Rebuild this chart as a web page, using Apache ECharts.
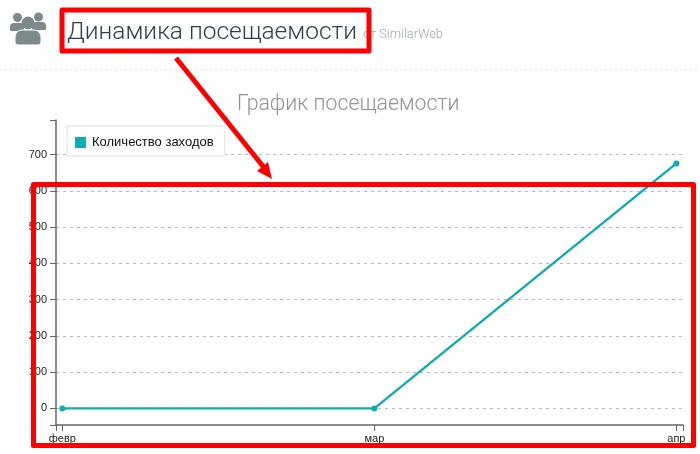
<!DOCTYPE html>
<html><head><meta charset="utf-8">
<style>html,body{margin:0;padding:0;background:#fff}#c{width:700px;height:454px}</style>
<script src="https://cdn.jsdelivr.net/npm/echarts@6/dist/echarts.min.js"></script>
</head><body><div id="c"></div>
<script>
const monthLabels = ['февр', 'мар', 'апр'];
const dayOffsets = [0, 31, 61];
const visits = [0, 0, 676];
const yTicks = [0, 100, 200, 300, 400, 500, 600, 700];
const seriesName = 'Количество заходов';
const pageTitle = 'Динамика посещаемости';
const pageSource = 'от SimilarWeb';
const chartTitle = 'График посещаемости';

const xMin = -0.63, xMax = 61.66, yMin = -45.8, yMax = 795.8;
const teal = '#0cadb3', axisCol = '#666', red = '#fe0000';
const sans = 'Liberation Sans, Arial, sans-serif';

const chart = echarts.init(document.getElementById('c'), null, {renderer: 'canvas'});
chart.setOption({
  animation: false,
  backgroundColor: '#fff',
  grid: {left: 56, right: 17, top: 120, bottom: 29, containLabel: false},
  legend: {
    left: 67, top: 126, orient: 'horizontal',
    data: [{name: seriesName, icon: 'rect'}],
    itemWidth: 11, itemHeight: 11, itemGap: 0,
    padding: [10, 11, 7, 8],
    backgroundColor: '#fff', borderColor: '#eaeaea', borderWidth: 1.5,
    textStyle: {color: '#111', fontSize: 13, fontFamily: sans, padding: [0, 0, 0, 1]}
  },
  xAxis: {
    type: 'value', min: xMin, max: xMax,
    axisLine: {show: true, onZero: false, lineStyle: {color: axisCol, width: 1.5}},
    axisTick: {show: true, length: 6, inside: false, customValues: [xMin, ...dayOffsets, xMax], lineStyle: {color: axisCol, width: 1}},
    axisLabel: {
      customValues: dayOffsets, color: '#222', fontSize: 11, fontFamily: sans, margin: 8,
      hideOverlap: false, showMinLabel: true, showMaxLabel: true,
      formatter: v => monthLabels[dayOffsets.indexOf(v)] ?? ''
    },
    splitLine: {show: false}
  },
  yAxis: {
    type: 'value', min: yMin, max: yMax,
    axisLine: {show: true, onZero: false, lineStyle: {color: axisCol, width: 1.5}},
    axisTick: {show: true, length: 6, customValues: [yMin, ...yTicks, yMax], lineStyle: {color: axisCol, width: 1}},
    axisLabel: {customValues: yTicks, color: '#222', fontSize: 11, fontFamily: sans, margin: 9},
    splitLine: {show: true, showMinLine: false, showMaxLine: false, lineStyle: {color: '#b8b8b8', width: 1, type: [3, 4]}}
  },
  series: [{
    name: seriesName, type: 'line',
    data: dayOffsets.map((d, i) => [d, visits[i]]),
    symbol: 'circle', symbolSize: 6, showSymbol: true,
    itemStyle: {color: teal},
    lineStyle: {color: teal, width: 2.4}
  }],
  graphic: [
    {type: 'line', z: 1, shape: {x1: 0, y1: 70, x2: 700, y2: 70}, style: {stroke: '#dde3e3', lineWidth: 1, lineDash: [2, 3]}},
    {type: 'group', z: 1, children: [
      {type: 'circle', shape: {cx: 17.5, cy: 17.5, r: 4.5}, style: {fill: '#7d8a8c'}},
      {type: 'circle', shape: {cx: 38.5, cy: 17, r: 4.5}, style: {fill: '#7d8a8c'}},
      {type: 'circle', shape: {cx: 28, cy: 23, r: 6.5}, style: {fill: '#7d8a8c'}},
      {type: 'rect', shape: {x: 10, y: 23, width: 14, height: 8, r: [4, 4, 1, 1]}, style: {fill: '#7d8a8c'}},
      {type: 'rect', shape: {x: 32, y: 22, width: 14, height: 8, r: [4, 4, 1, 1]}, style: {fill: '#7d8a8c'}},
      {type: 'rect', shape: {x: 15, y: 30, width: 26, height: 15, r: [7, 7, 3, 3]}, style: {fill: '#7d8a8c', stroke: '#fff', lineWidth: 1}}
    ]},
    {type: 'text', z: 1, left: 67, top: 20, style: {text: pageTitle, fontFamily: 'Roboto', fontWeight: 300, fontSize: 24.5, fill: '#2d3e50'}},
    {type: 'text', z: 1, left: 363, top: 28, style: {text: pageSource, fontFamily: 'Roboto', fontWeight: 300, fontSize: 12.8, fill: '#9aa5a8'}},
    {type: 'text', z: 1, left: 237, top: 94, style: {text: chartTitle, fontFamily: 'Roboto', fontWeight: 300, fontSize: 21.3, fill: '#8d9499'}},
    {type: 'rect', z: 100, shape: {x: 62, y: 10, width: 307, height: 41}, style: {fill: 'none', stroke: red, lineWidth: 5, lineJoin: 'round'}},
    {type: 'rect', z: 100, shape: {x: 33.5, y: 184.5, width: 660, height: 261}, style: {fill: 'none', stroke: red, lineWidth: 5, lineJoin: 'round'}},
    {type: 'line', z: 100, shape: {x1: 176, y1: 58, x2: 266, y2: 170}, style: {stroke: red, lineWidth: 5}},
    {type: 'polygon', z: 100, shape: {points: [[272, 179], [257, 171], [268, 162]]}, style: {fill: red}}
  ]
});
</script></body></html>
